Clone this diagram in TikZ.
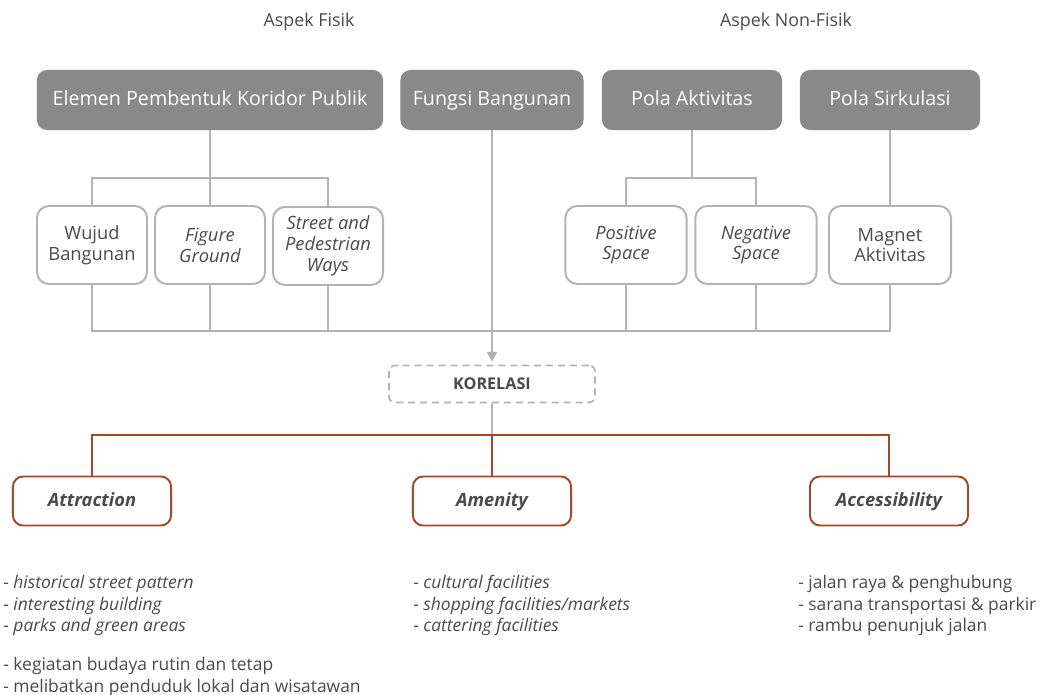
\documentclass[tikz,border=0pt]{standalone}
\usepackage{fontspec}
\setmainfont{Open Sans}
\usepackage{tikz}
\usetikzlibrary{arrows.meta}
\definecolor{boxgray}{HTML}{898989}
\definecolor{linegray}{HTML}{B3B3B3}
\definecolor{textgray}{HTML}{4A4A4A}
\definecolor{corbrown}{HTML}{A3472C}
\tikzset{
	mainbox/.style={draw=none, fill=boxgray, text=white, rounded corners=0.25cm,
		minimum height=1.5cm, font=\fontsize{14}{16}\selectfont, inner sep=0pt,
		text height=0.95em, text depth=0.15em},
	subbox/.style={draw=linegray, line width=1.4pt, fill=white, text=textgray,
		rounded corners=0.3cm, minimum height=1.95cm, align=center,
		font=\fontsize{13}{14.8}\selectfont, inner sep=0pt},
	corbox/.style={draw=linegray, line width=1.3pt, dash pattern=on 5pt off 3.5pt,
		rounded corners=0.15cm, minimum width=5.15cm, minimum height=0.925cm,
		text=textgray, font=\fontsize{11.5}{13}\selectfont\bfseries},
	resbox/.style={draw=corbrown, line width=1.4pt, fill=white, text=textgray,
		rounded corners=0.25cm, minimum width=3.95cm, minimum height=1.225cm,
		font=\fontsize{13}{15}\selectfont\bfseries\itshape,
		text height=0.95em, text depth=0.15em},
	conn/.style={draw=linegray, line width=1.8pt},
	redconn/.style={draw=corbrown, line width=1.8pt},
	listtext/.style={text=textgray, align=left, inner sep=0pt,
		font=\fontsize{12.4}{15.3}\selectfont},
	headtext/.style={text=textgray, font=\fontsize{12.7}{15}\selectfont},
}

\begin{document}
\begin{tikzpicture}[x=0.025cm, y=-0.025cm]
	\useasboundingbox (0,0) rectangle (1048,695);
	
	\node[headtext] (fisik) at (309,22) {Aspek Fisik};
	\node[headtext] (nonfisik) at (786,22) {Aspek Non-Fisik};
	
	\node[mainbox, minimum width=8.65cm] (elemen) at (210,100) {Elemen Pembentuk Koridor Publik};
	\node[mainbox, minimum width=4.575cm] (fungsi) at (492,100) {Fungsi Bangunan};
	\node[mainbox, minimum width=4.5cm] (aktivitas) at (692,100) {Pola Aktivitas};
	\node[mainbox, minimum width=4.5cm] (sirkulasi) at (890,100) {Pola Sirkulasi};
	
	\node[subbox, minimum width=2.75cm] (wujud) at (92,245) {Wujud\\Bangunan};
	\node[subbox, minimum width=2.75cm] (figure) at (210,245) {\itshape Figure\\\itshape Ground};
	\node[subbox, minimum width=2.75cm] (street) at (328,246) {\itshape Street and\\\itshape Pedestrian\\\itshape Ways};
	\node[subbox, minimum width=3.03cm] (positive) at (626,245) {\itshape Positive\\\itshape Space};
	\node[subbox, minimum width=3.03cm] (negative) at (756,245) {\itshape Negative\\\itshape Space};
	\node[subbox, minimum width=3.05cm] (magnet) at (890,245) {Magnet\\Aktivitas};
	
	\node[corbox] (korelasi) at (492,384) {KORELASI};
	
	\node[resbox] (attraction) at (92,501) {Attraction};
	\node[resbox] (amenity) at (492,501) {Amenity};
	\node[resbox] (access) at (889,501) {Accessibility};
	
	\coordinate (topbus) at (0,178);
	\coordinate (lowbus) at (0,331);
	\coordinate (redbus) at (0,435);
	
	\draw[conn] (elemen.south) -- (figure.north);
	\draw[conn] (wujud.north) -- (wujud.north |- topbus) -- (street.north |- topbus) -- (street.north);
	\draw[conn] (aktivitas.south) -- (aktivitas.south |- topbus);
	\draw[conn] (positive.north) -- (positive.north |- topbus) -- (negative.north |- topbus) -- (negative.north);
	\draw[conn] (sirkulasi.south) -- (magnet.north);
	
	\draw[conn] (wujud.south) -- (wujud.south |- lowbus) -- (magnet.south |- lowbus) -- (magnet.south);
	\foreach \n in {figure,street,positive,negative}{
		\draw[conn] (\n.south) -- (\n.south |- lowbus);
	}
	\draw[conn, line width=1.4pt, -{Triangle[length=7pt, width=7pt]}]
		(fungsi.south) -- ([yshift=2pt]korelasi.north);
	\draw[draw=linegray, line width=1.4pt] (korelasi.south) -- (korelasi.south |- redbus);
	
	\draw[redconn] (attraction.north) -- (attraction.north |- redbus) -- (access.north |- redbus) -- (access.north);
	\draw[redconn] (amenity.north) -- (amenity.north |- redbus);
	
	\node[listtext, anchor=north west] (attrlist) at (3,575) {%
		- \textit{historical street pattern}\\
		- \textit{interesting building}\\
		- \textit{parks and green areas}\\[12.5pt]
		- kegiatan budaya rutin dan tetap\\
		- melibatkan penduduk lokal dan wisatawan};
	\node[listtext, anchor=north west] (amenlist) at (413,575) {%
		- \textit{cultural facilities}\\
		- \textit{shopping facilities/markets}\\
		- \textit{cattering facilities}};
	\node[listtext, anchor=north west] (acclist) at (798,575) {%
		- jalan raya \& penghubung\\
		- sarana transportasi \& parkir\\
		- rambu penunjuk jalan};
\end{tikzpicture}
\end{document}
